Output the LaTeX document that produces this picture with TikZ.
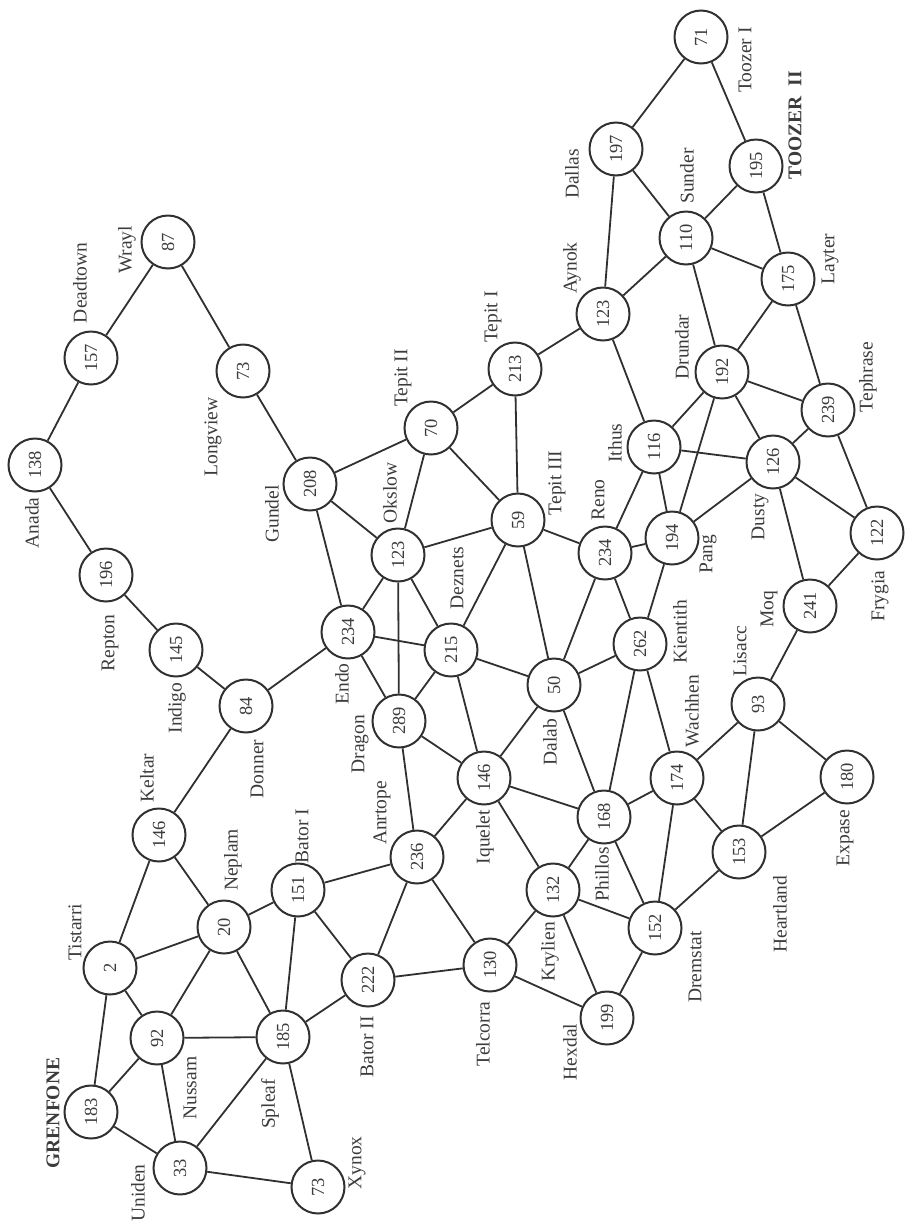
\documentclass[tikz,border=0pt]{standalone}
\usepackage{fontspec}
\setmainfont{Liberation Serif}
\definecolor{ink}{HTML}{303030}
\definecolor{txt}{HTML}{3c3c3c}
\newcommand\fsz{\fontsize{19.5}{22}\selectfont}
\newcommand\nsz{\fontsize{18.5}{20}\selectfont}
\tikzset{
  town/.style={circle, draw=ink, line width=2pt, minimum size=53pt, inner sep=0pt, text=txt, font=\nsz, rotate=90},
  lbl/.style={text=txt, font=\fsz, rotate=90, inner sep=0pt},
  blbl/.style={text=txt, font=\fsz\bfseries, rotate=90, inner sep=0pt},
  road/.style={draw=ink, line width=1.8pt}
}
\begin{document}
\begin{tikzpicture}[x=1pt,y=-1pt]
\useasboundingbox (0,0) rectangle (905,1224);
% towns
\node[town] (n87) at (168,242) {87};
\node[town] (n157) at (91,358) {157};
\node[town] (n138) at (35,465) {138};
\node[town] (n196) at (106,575) {196};
\node[town] (n73L) at (243,371) {73};
\node[town] (n208) at (310,484) {208};
\node[town] (n70) at (431,428) {70};
\node[town] (n213) at (515,369) {213};
\node[town] (n123A) at (603,314) {123};
\node[town] (n197) at (616,149) {197};
\node[town] (n71) at (701,37) {71};
\node[town] (n195) at (756,166) {195};
\node[town] (n110) at (686,238) {110};
\node[town] (n175) at (788,279) {175};
\node[town] (n192) at (722,372) {192};
\node[town] (n239) at (828,410) {239};
\node[town] (n116) at (654,447) {116};
\node[town] (n126) at (773,462) {126};
\node[town] (n194) at (672,538) {194};
\node[town] (n122) at (877,533) {122};
\node[town] (n241) at (810,606) {241};
\node[town] (n123O) at (398,555) {123};
\node[town] (n59) at (518,520) {59};
\node[town] (n234R) at (605,553) {234};
\node[town] (n145) at (176,650) {145};
\node[town] (n84) at (246,706) {84};
\node[town] (n146K) at (159,835) {146};
\node[town] (n234E) at (348,632) {234};
\node[town] (n215) at (451,650) {215};
\node[town] (n50) at (554,685) {50};
\node[town] (n289) at (399,721) {289};
\node[town] (n146I) at (484,778) {146};
\node[town] (n236) at (417,857) {236};
\node[town] (n262) at (640,644) {262};
\node[town] (n93) at (758,704) {93};
\node[town] (n174) at (677,778) {174};
\node[town] (n180) at (847,777) {180};
\node[town] (n153) at (739,852) {153};
\node[town] (n168) at (604,817) {168};
\node[town] (n132) at (553,890) {132};
\node[town] (n152) at (655,928) {152};
\node[town] (n199) at (607,1018) {199};
\node[town] (n130) at (490,965) {130};
\node[town] (n222) at (368,980) {222};
\node[town] (n151) at (298,890) {151};
\node[town] (n2) at (110,968) {2};
\node[town] (n20) at (224,927) {20};
\node[town] (n92) at (157,1038) {92};
\node[town] (n183) at (91,1112) {183};
\node[town] (n185) at (283,1037) {185};
\node[town] (n33) at (180,1168) {33};
\node[town] (n73X) at (318,1187) {73};
% labels
\node[lbl] (lWrayl) at (127,250) {Wrayl};
\node[lbl] (lDeadtown) at (80,283) {Deadtown};
\node[lbl] (lAnada) at (32,523) {Anada};
\node[lbl] (lLongview) at (213,437) {Longview};
\node[lbl] (lGundel) at (272,514) {Gundel};
\node[lbl] (lRepton) at (110,643) {Repton};
\node[lbl] (lIndigo) at (177,708) {Indigo};
\node[lbl] (lDonner) at (257,769) {Donner};
\node[lbl] (lKeltar) at (147,778) {Keltar};
\node[lbl] (lNeplam) at (233,860) {Neplam};
\node[lbl] (lBatorI) at (302,836) {Bator I};
\node[lbl] (lTistarri) at (75,932) {Tistarri};
\node[blbl] (lGrenfone) at (53,1113) {GRENFONE};
\node[lbl] (lNussam) at (190,1088) {Nussam};
\node[lbl] (lSpleaf) at (270,1104) {Spleaf};
\node[lbl] (lUniden) at (138,1193) {Uniden};
\node[lbl] (lXynox) at (357,1163) {Xynox};
\node[lbl] (lBatorII) at (367,1047) {Bator II};
\node[lbl] (lTelcorra) at (483,1034) {Telcorra};
\node[lbl] (lKrylien) at (550,952) {Krylien};
\node[lbl] (lHexdal) at (570,1052) {Hexdal};
\node[lbl] (lDremstat) at (695,967) {Dremstat};
\node[lbl] (lHeartland) at (780,914) {Heartland};
\node[lbl] (lExpase) at (845,838) {Expase};
\node[lbl] (lPhillos) at (602,874) {Phillos};
\node[lbl] (lIquelet) at (485,837) {Iquelet};
\node[lbl] (lAnrtope) at (382,813) {Anrtope};
\node[lbl] (lDragon) at (360,744) {Dragon};
\node[lbl] (lEndo) at (342,684) {Endo};
\node[lbl] (lDalab) at (550,742) {Dalab};
\node[lbl] (lDeznets) at (457,578) {Deznets};
\node[lbl] (lOkslow) at (390,493) {Okslow};
\node[lbl] (lTepitII) at (403,378) {Tepit II};
\node[lbl] (lTepitI) at (493,317) {Tepit I};
\node[lbl] (lTepitIII) at (557,483) {Tepit III};
\node[lbl] (lReno) at (598,500) {Reno};
\node[lbl] (lAynok) at (572,268) {Aynok};
\node[lbl] (lDallas) at (572,174) {Dallas};
\node[lbl] (lIthus) at (615,443) {Ithus};
\node[lbl] (lDrundar) at (682,347) {Drundar};
\node[lbl] (lTephrase) at (868,377) {Tephrase};
\node[lbl] (lDusty) at (760,517) {Dusty};
\node[lbl] (lPang) at (708,554) {Pang};
\node[lbl] (lMoq) at (769,609) {Moq};
\node[lbl] (lFrygia) at (880,596) {Frygia};
\node[lbl] (lKientith) at (680,632) {Kientith};
\node[lbl] (lLisacc) at (740,651) {Lisacc};
\node[lbl] (lWachhen) at (692,711) {Wachhen};
\node[lbl] (lSunder) at (687,176) {Sunder};
\node[lbl] (lLayter) at (830,259) {Layter};
\node[lbl] (lToozerI) at (745,60) {Toozer I};
\node[blbl] (lToozerII) at (795,125) {TOOZER\ \ II};
% roads
\foreach \a/\b in {n138/n157, n157/n87, n87/n73L, n73L/n208, n138/n196, n196/n145, n145/n84, n84/n146K, n84/n234E,
  n208/n70, n208/n123O, n208/n234E, n70/n213, n70/n123O, n70/n59, n213/n59, n213/n123A,
  n123A/n197, n123A/n110, n123A/n116, n197/n71, n197/n110, n71/n195, n195/n110, n195/n175,
  n110/n175, n110/n192, n175/n192, n175/n239, n192/n239, n192/n116, n192/n194, n192/n126,
  n116/n126, n116/n194, n116/n234R, n126/n239, n126/n194, n126/n122, n126/n241, n239/n122,
  n122/n241, n241/n93, n194/n234R, n194/n262, n59/n234R, n59/n123O, n59/n215, n59/n50,
  n234R/n50, n234R/n262, n123O/n234E, n123O/n215, n123O/n289, n234E/n215, n234E/n289,
  n215/n289, n215/n50, n215/n146I, n50/n146I, n50/n262, n50/n168, n289/n146I, n289/n236,
  n262/n168, n262/n174, n146I/n168, n146I/n132, n146I/n236, n236/n151, n236/n222, n236/n130,
  n168/n174, n168/n132, n168/n152, n174/n93, n174/n153, n174/n152, n93/n153, n93/n180,
  n180/n153, n153/n152, n132/n130, n132/n199, n132/n152, n152/n199, n130/n199, n130/n222,
  n222/n151, n222/n185, n151/n20, n151/n185, n146K/n2, n146K/n20, n2/n20, n2/n92, n2/n183,
  n20/n92, n20/n185, n92/n183, n92/n33, n92/n185, n183/n33, n33/n185, n33/n73X, n185/n73X}
  \draw[road] (\a) -- (\b);
\end{tikzpicture}
\end{document}
